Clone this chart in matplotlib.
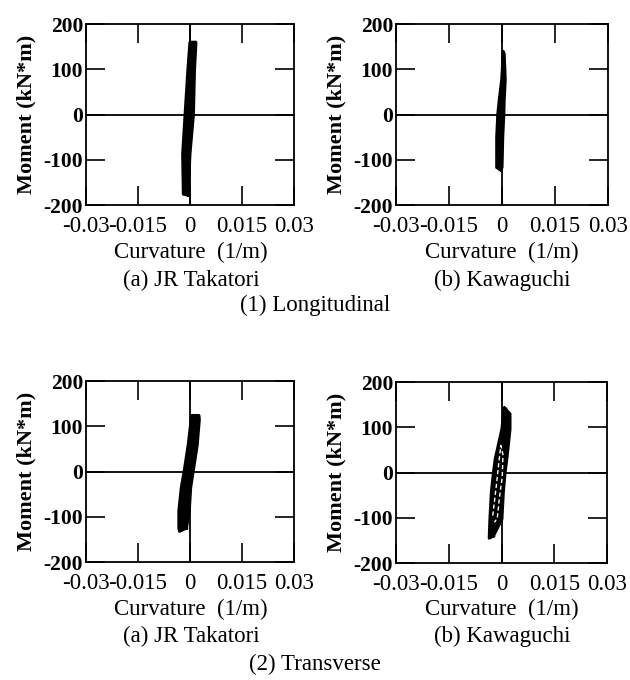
import matplotlib
matplotlib.use("Agg")
import matplotlib.pyplot as plt

plt.rcParams['font.family'] = ['Liberation Serif', 'DejaVu Serif']
plt.rcParams['axes.unicode_minus'] = False

# tick values and labels
x_ticks = [-0.03, -0.015, 0, 0.015, 0.03]
x_tick_labels = ['-0.03', '-0.015', '0', '0.015', '0.03']
y_ticks = [-200, -100, 0, 100, 200]
y_tick_labels = ['-200', '-100', '0', '100', '200']

# outline of each hysteresis band: up the right edge, down the left edge
# (1a) Longitudinal - JR Takatori
long_jr_curv = [-0.0005, 0.0000, 0.0010, 0.0013, 0.0017, 0.0017,
                0.0000, -0.0006, -0.0014, -0.0021, -0.0019, -0.0005]
long_jr_mom = [-178, -87, 0, 98, 155, 160,
               160, 98, 0, -87, -176, -178]
# (1b) Longitudinal - Kawaguchi
long_kw_curv = [-0.0004, 0.0000, 0.0002, 0.0005, 0.0006, 0.0009, 0.0008, 0.0006, 0.0003,
                0.0001, -0.0001, -0.0008, -0.0012, -0.0015, -0.0015, -0.0004]
long_kw_mom = [-122, -117, -50, 0, 31, 76, 100, 135, 140,
               100, 76, 31, 0, -50, -117, -122]
# (2a) Transverse - JR Takatori
tran_jr_curv = [-0.0010, -0.0002, 0.0002, 0.0010, 0.0021, 0.0027, 0.0026,
                0.0005, -0.0005, -0.0016, -0.0025, -0.0032, -0.0032, -0.0030]
tran_jr_mom = [-125, -87, -36, 4, 59, 115, 124,
               124, 59, 4, -36, -87, -125, -132]
# (2b) Transverse - Kawaguchi
tran_kw_curv = [-0.0023, 0.0001, 0.0005, 0.0010, 0.0015, 0.0024, 0.0024, 0.0015, 0.0013,
                0.0008, 0.0001, -0.0018, -0.0023, -0.0029, -0.0033, -0.0035]
tran_kw_mom = [-140, -103, -44, 0, 30, 96, 130, 137, 140,
               144, 96, 30, 0, -44, -103, -145]
# inner loop of (2b) showing through the band
tran_kw_in_curv = [-0.0025, -0.0015, -0.0008, -0.0002, 0.0004, 0.0002, -0.0006, -0.0012, -0.0020]
tran_kw_in_mom = [-95, -30, 20, 60, 40, -10, -55, -100, -110]

panels = [
    (0.1365, 0.6985, 0.330, long_jr_curv, long_jr_mom, None),
    (0.6286, 0.6985, 0.3365, long_kw_curv, long_kw_mom, None),
    (0.1365, 0.1735, 0.330, tran_jr_curv, tran_jr_mom, None),
    (0.6286, 0.1720, 0.3350, tran_kw_curv, tran_kw_mom, (tran_kw_in_curv, tran_kw_in_mom)),
]

fig = plt.figure(figsize=(6.3, 6.8), dpi=100)
fs_x = 16.5
fs_y = 15.5
fs_cap = 16.5

for left, bottom, width, cx, my, inner in panels:
    ax = fig.add_axes([left, bottom, width, 0.266])
    ax.fill(cx, my, color='black', lw=0)
    ax.plot(cx + cx[:1], my + my[:1], color='black', lw=2.2)
    if inner is not None:
        ax.plot(inner[0], inner[1], color='white', lw=1.0, ls=(0, (3, 2)))
    ax.axhline(0, color='black', lw=1.3, zorder=0)
    ax.axvline(0, color='black', lw=1.3, zorder=0)
    ax.set_xlim(-0.03, 0.03)
    ax.set_ylim(-200, 200)
    ax.set_xticks(x_ticks)
    ax.set_xticklabels(x_tick_labels, fontsize=fs_x)
    ax.set_yticks(y_ticks)
    ax.set_yticklabels(y_tick_labels, fontsize=fs_y, fontweight='bold')
    ax.tick_params(direction='in', length=14, width=1.2, top=True, right=True, pad=2)
    ax.tick_params(axis='x', pad=8)
    for s in ax.spines.values():
        s.set_linewidth(1.3)
    ax.set_ylabel('Moment (kN*m)', fontsize=16, fontweight='bold', labelpad=5)

# captions under each panel
fig.text(0.303, 0.6294, 'Curvature  (1/m)', ha='center', va='center', fontsize=fs_cap)
fig.text(0.797, 0.6294, 'Curvature  (1/m)', ha='center', va='center', fontsize=fs_cap)
fig.text(0.303, 0.5882, '(a) JR Takatori', ha='center', va='center', fontsize=fs_cap)
fig.text(0.797, 0.5882, '(b) Kawaguchi', ha='center', va='center', fontsize=fs_cap)
fig.text(0.500, 0.5515, '(1) Longitudinal', ha='center', va='center', fontsize=fs_cap)

fig.text(0.303, 0.1044, 'Curvature  (1/m)', ha='center', va='center', fontsize=fs_cap)
fig.text(0.797, 0.1044, 'Curvature  (1/m)', ha='center', va='center', fontsize=fs_cap)
fig.text(0.303, 0.0647, '(a) JR Takatori', ha='center', va='center', fontsize=fs_cap)
fig.text(0.797, 0.0647, '(b) Kawaguchi', ha='center', va='center', fontsize=fs_cap)
fig.text(0.500, 0.0235, '(2) Transverse', ha='center', va='center', fontsize=fs_cap)

fig.savefig('out.png', dpi=100)
